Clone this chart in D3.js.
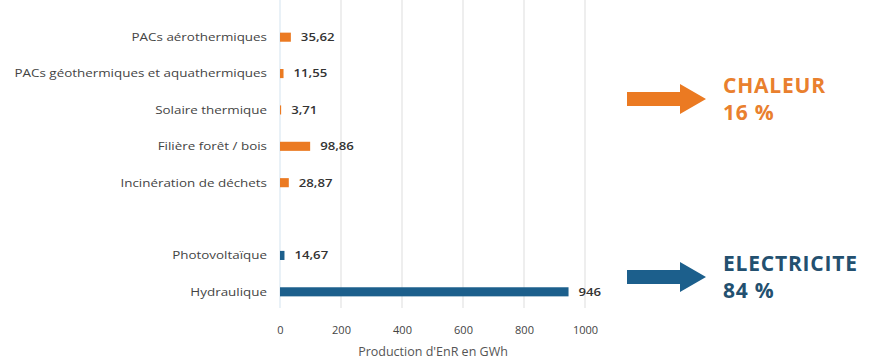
<!DOCTYPE html>
<html>
<head>
<meta charset="utf-8">
<script src="https://d3js.org/d3.v7.min.js"></script>
<style>
  body { margin: 0; background: #fff; }
  text { font-family: "Open Sans", sans-serif; }
</style>
</head>
<body>
<script>
"use strict";

// Production d'EnR par filière (GWh)
var categories = ["PACs aérothermiques", "PACs géothermiques et aquathermiques", "Solaire thermique",
  "Filière forêt / bois", "Incinération de déchets", "", "Photovoltaïque", "Hydraulique"];
var values = [35.62, 11.55, 3.71, 98.86, 28.87, null, 14.67, 946];
var groups = ["chaleur", "chaleur", "chaleur", "chaleur", "chaleur", null, "elec", "elec"];
var xTicks = [0, 200, 400, 600, 800, 1000];
var shareLabels = ["CHALEUR", "ELECTRICITE"];
var shareValues = ["16 %", "84 %"];

var colors = { chaleur: "#eb7a22", elec: "#1c5f8c" };
var textColors = { chaleur: "#e9802e", elec: "#23506f" };

var width = 877, height = 362;
var svg = d3.select("body").append("svg")
    .attr("width", width)
    .attr("height", height);

var x = d3.scaleLinear().domain([0, 1000]).range([280, 585]);
var y = d3.scaleBand().domain(d3.range(categories.length)).range([19, 310]).paddingInner(0.75).paddingOuter(0.375);

var fr = d3.formatLocale({ decimal: ",", thousands: " ", grouping: [3], currency: ["", " €"] });
var fmt = fr.format(".2~f");

// grid lines
svg.append("g").selectAll("line")
  .data(xTicks)
  .join("line")
    .attr("x1", d => x(d)).attr("x2", d => x(d))
    .attr("y1", 0).attr("y2", 308)
    .attr("stroke", d => d === 0 ? "#dbe8f2" : "#e3e3e3")
    .attr("stroke-width", 1.2);

// x axis labels
var xAxis = d3.axisBottom(x).tickValues(xTicks).tickSize(0).tickPadding(0).tickFormat(d3.format("d"));
svg.append("g")
    .attr("transform", "translate(0,326)")
    .call(xAxis)
    .call(g => g.select(".domain").remove())
    .selectAll("text")
    .attr("font-family", "Open Sans, sans-serif")
    .attr("font-size", 11)
    .attr("fill", "#444");

svg.append("text")
    .attr("x", 433).attr("y", 356)
    .attr("text-anchor", "middle")
    .attr("font-size", 12.5)
    .attr("fill", "#555")
    .text("Production d'EnR en GWh");

var idx = d3.range(categories.length).filter(i => values[i] !== null);

// category labels (source text is wide, so stretch horizontally)
svg.append("g").selectAll("text")
  .data(idx)
  .join("text")
    .attr("transform", i => "translate(267," + (y(i) + y.bandwidth() / 2) + ") scale(1.22,1)")
    .attr("dy", "0.35em")
    .attr("text-anchor", "end")
    .attr("font-size", 11)
    .attr("fill", "#444")
    .text(i => categories[i]);

// bars
svg.append("g").selectAll("rect")
  .data(idx)
  .join("rect")
    .attr("x", x(0))
    .attr("y", i => y(i))
    .attr("width", i => x(values[i]) - x(0))
    .attr("height", y.bandwidth())
    .attr("fill", i => colors[groups[i]]);

// value labels
svg.append("g").selectAll("text")
  .data(idx)
  .join("text")
    .attr("transform", i => "translate(" + (x(values[i]) + 10) + "," + (y(i) + y.bandwidth() / 2) + ") scale(1.2,1)")
    .attr("dy", "0.35em")
    .attr("font-size", 11)
    .attr("font-weight", 600)
    .attr("fill", "#333")
    .text(i => fmt(values[i]));

// arrows + share labels
var arrowY = [99, 277];
var keys = ["chaleur", "elec"];
var arrow = d3.line()([[627, -7], [680, -7], [680, -15], [706, 0], [680, 15], [680, 7], [627, 7]]) + "Z";
var ann = svg.append("g").selectAll("g")
  .data(keys)
  .join("g")
    .attr("transform", (d, i) => "translate(0," + arrowY[i] + ")");
ann.append("path")
    .attr("d", arrow)
    .attr("fill", d => colors[d]);
ann.append("text")
    .attr("x", 723).attr("y", -6)
    .attr("font-size", 21)
    .attr("font-weight", 700)
    .attr("letter-spacing", 0.8)
    .attr("fill", d => textColors[d])
    .text((d, i) => shareLabels[i]);
ann.append("text")
    .attr("x", 723).attr("y", 21)
    .attr("font-size", 21)
    .attr("font-weight", 700)
    .attr("letter-spacing", 0.8)
    .attr("fill", d => textColors[d])
    .text((d, i) => shareValues[i]);
</script>
</body>
</html>
